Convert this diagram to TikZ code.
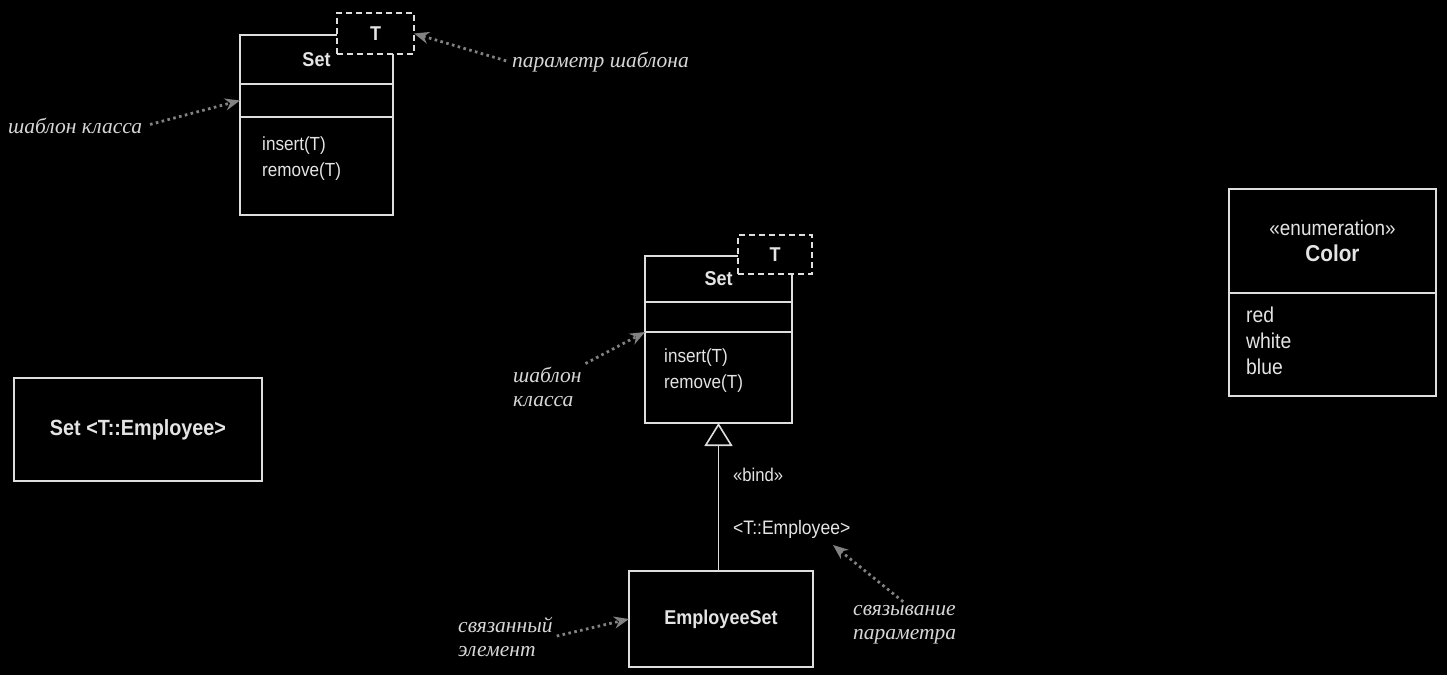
\documentclass[tikz,border=0pt]{standalone}
\usepackage{fontspec}
\setmainfont[FakeStretch=0.9]{Liberation Sans}
\newfontfamily\notefont{Liberation Serif}
\usetikzlibrary{arrows.meta}
\usetikzlibrary{positioning}

\definecolor{umlline}{RGB}{222,222,222}
\definecolor{umltext}{RGB}{228,228,228}
\definecolor{notetext}{RGB}{215,215,215}
\definecolor{hintgray}{RGB}{130,130,130}

\tikzset{
  cls/.style={draw=umlline, line width=1.6pt, fill=black, inner sep=0pt, outer sep=0pt, text=umltext},
  tparam/.style={draw=umlline, line width=1.4pt, dash pattern=on 6pt off 4pt, fill=black, inner sep=0pt, outer sep=0pt, text=umltext, font=\bfseries\fontsize{20}{22}\selectfont},
  umltext/.style={text=umltext, font=\fontsize{19}{26}\selectfont, inner sep=2pt},
  clsname/.style={font=\bfseries\fontsize{20}{26}\selectfont},
  note/.style={text=notetext, font=\notefont\itshape\fontsize{21.5}{24}\selectfont, align=left, inner sep=2pt},
  hint/.style={draw=hintgray, line width=2.8pt, dash pattern=on 2.6pt off 3.4pt, -{Stealth[length=15pt, width=12pt]}},
}

\begin{document}
\begin{tikzpicture}[x=1pt, y=-1pt]
    \fill[black] (0,0) rectangle (1447,675);
    \useasboundingbox (0,0) rectangle (1447,675);

    %Template Set (top)
    \node[cls, clsname, minimum width=153pt, minimum height=49pt] (setAname) at (316.5,59.5) {Set};
    \node[cls, minimum width=153pt, minimum height=33pt] (setAattr) at (316.5,100.5) {};
    \node[cls, minimum width=153pt, minimum height=98pt] (setAops) at (316.5,166) {};
    \node[umltext, anchor=west, align=left] (opsA) at (260,159) {insert(T)\\remove(T)};
    \node[tparam, minimum width=77pt, minimum height=41pt] (parA) at (375.5,33.5) {T};

    %Bound element
    \node[cls, font=\bfseries\fontsize{22}{26}\selectfont, minimum width=248pt, minimum height=103pt] (boundSet) at (138,429.5) {Set <T::Employee>};

    %Template Set (middle)
    \node[cls, clsname, minimum width=147pt, minimum height=46pt] (setBname) at (718.5,279) {Set};
    \node[cls, minimum width=147pt, minimum height=30pt] (setBattr) at (718.5,317) {};
    \node[cls, minimum width=147pt, minimum height=91pt] (setBops) at (718.5,377.5) {};
    \node[umltext, anchor=west, align=left] (opsB) at (662,371) {insert(T)\\remove(T)};
    \node[tparam, minimum width=74pt, minimum height=39pt] (parB) at (775,254.5) {T};

    %EmployeeSet and binding
    \node[cls, clsname, minimum width=184pt, minimum height=96pt] (empSet) at (721,619) {EmployeeSet};
    \draw[umlline, line width=1.6pt, -{Triangle[open, length=23pt, width=28pt, fill=black]}]
        (empSet.north -| setBops.south) -- (setBops.south);
    \node[umltext, anchor=west, font=\fontsize{18.5}{26}\selectfont] (bindKw) at (731,475) {«bind»};
    \node[umltext, anchor=west, font=\fontsize{19.5}{26}\selectfont] (bindArg) at (731,529) {<T::Employee>};

    %Enumeration
    \node[cls, minimum width=207pt, minimum height=104pt, align=center, font=\fontsize{21}{26}\selectfont] (colName) at (1332.5,241)
        {«enumeration»\\{\bfseries\fontsize{23}{26}\selectfont Color}};
    \node[cls, minimum width=207pt, minimum height=103pt] (colLits) at (1332.5,344.5) {};
    \node[umltext, anchor=west, align=left, font=\fontsize{21.5}{26}\selectfont] (lits) at (1244,341) {red\\white\\blue};

    %Notes
    \node[note, anchor=west] (noteA) at (6,126) {шаблон класса};
    \node[note, anchor=west] (noteB) at (510,62) {параметр шаблона};
    \node[note, anchor=west] (noteC) at (511,386.5) {шаблон\\класса};
    \node[note, anchor=west] (noteD) at (456,636.5) {связанный\\элемент};
    \node[note, anchor=west] (noteE) at (851,624.5) {связывание\\параметра};
    \coordinate (argTip) at (833,545);

    \draw[hint, shorten <=6pt] (noteA.east) -- (setAattr.west);
    \draw[hint, shorten <=4pt] (noteB.west) -- (parA.east);
    \draw[hint, shorten <=2pt] (noteC.north east) -- (setBattr.south west);
    \draw[hint, shorten <=2pt] (noteD.east) -- (empSet.west);
    \draw[hint, shorten <=2pt] (noteE.north) -- (argTip);
  \end{tikzpicture}
\end{document}
